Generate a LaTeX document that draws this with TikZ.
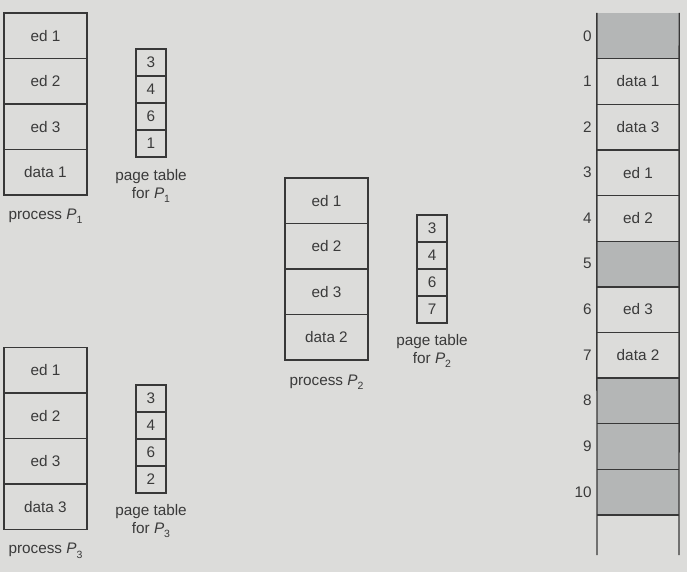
\documentclass[tikz,border=0pt]{standalone}
\usepackage{fontspec}
\setmainfont{Liberation Sans}
\definecolor{bg}{HTML}{DCDCDA}
\definecolor{ln}{HTML}{383838}
\definecolor{tx}{HTML}{3A3A3A}
\definecolor{fr}{HTML}{B4B6B6}
\newcommand{\proc}[1]{{\itshape P}\raisebox{-0.55ex}{\fontsize{10.5}{10.5}\selectfont #1}}
\begin{document}
\begin{tikzpicture}[x=1pt,y=-1pt,
  every node/.style={text=tx, font=\fontsize{15.3}{17}\selectfont},
  cell/.style={draw=ln, line width=1.4pt, minimum width=83pt, minimum height=45.5pt, inner sep=0pt},
  ptcell/.style={draw=ln, line width=1.4pt, minimum width=30pt, minimum height=27pt, inner sep=0pt},
  frame/.style={minimum width=82pt, minimum height=45.6pt, inner sep=0pt},
  free/.style={frame, fill=fr},
  fnum/.style={anchor=east, inner sep=0pt},
  lbl/.style={align=center, inner sep=0pt, font=\fontsize{15.3}{17.5}\selectfont},
  memline/.style={draw=ln, line width=1.4pt}]
\fill[bg] (0,0) rectangle (687,572);
\useasboundingbox (0,0) rectangle (687,572);

% process P1
\node[cell] (a1) at (45.5,35.75) {ed 1};
\node[cell] (a2) at (45.5,81.25) {ed 2};
\node[cell] (a3) at (45.5,126.75) {ed 3};
\node[cell] (a4) at (45.5,172.25) {data 1};
\node[lbl] (la) at (45.5,216) {process \proc{1}};
\node[ptcell] (ta1) at (151,62.5) {3};
\node[ptcell] (ta2) at (151,89.5) {4};
\node[ptcell] (ta3) at (151,116.5) {6};
\node[ptcell] (ta4) at (151,143.5) {1};
\node[lbl] (lta) at (151,186) {page table\\for \proc{1}};

% process P2
\node[cell] (b1) at (326.5,200.75) {ed 1};
\node[cell] (b2) at (326.5,246.25) {ed 2};
\node[cell] (b3) at (326.5,291.75) {ed 3};
\node[cell] (b4) at (326.5,337.25) {data 2};
\node[lbl] (lb) at (326.5,382) {process \proc{2}};
\node[ptcell] (tb1) at (432,228.5) {3};
\node[ptcell] (tb2) at (432,255.5) {4};
\node[ptcell] (tb3) at (432,282.5) {6};
\node[ptcell] (tb4) at (432,309.5) {7};
\node[lbl] (ltb) at (432,351) {page table\\for \proc{2}};

% process P3
\node[cell] (c1) at (45.5,370.25) {ed 1};
\node[cell] (c2) at (45.5,415.75) {ed 2};
\node[cell] (c3) at (45.5,461.25) {ed 3};
\node[cell] (c4) at (45.5,506.75) {data 3};
\node[lbl] (lc) at (45.5,551) {process \proc{3}};
\node[ptcell] (tc1) at (151,398.5) {3};
\node[ptcell] (tc2) at (151,425.5) {4};
\node[ptcell] (tc3) at (151,452.5) {6};
\node[ptcell] (tc4) at (151,479.5) {2};
\node[lbl] (ltc) at (151,521) {page table\\for \proc{3}};

% physical memory
\node[free]  (m0) at (638,35.8) {};
\node[frame] (m1) at (638,81.4) {data 1};
\node[frame] (m2) at (638,127.0) {data 3};
\node[frame] (m3) at (638,172.6) {ed 1};
\node[frame] (m4) at (638,218.2) {ed 2};
\node[free]  (m5) at (638,263.8) {};
\node[frame] (m6) at (638,309.4) {ed 3};
\node[frame] (m7) at (638,355.0) {data 2};
\node[free]  (m8) at (638,400.6) {};
\node[free]  (m9) at (638,446.2) {};
\node[free]  (m10) at (638,491.8) {};
\foreach \i in {0,...,10} {
  \node[fnum] (n\i) at ([xshift=-5pt]m\i.west) {\i};
  \draw[memline] (m\i.south west) -- (m\i.south east);
}
\coordinate (bl) at (597,555);
\coordinate (br) at (679,555);
\draw[memline] (m0.north west) -- (bl);
\draw[memline] (m0.north east) -- (br);
\end{tikzpicture}
\end{document}
